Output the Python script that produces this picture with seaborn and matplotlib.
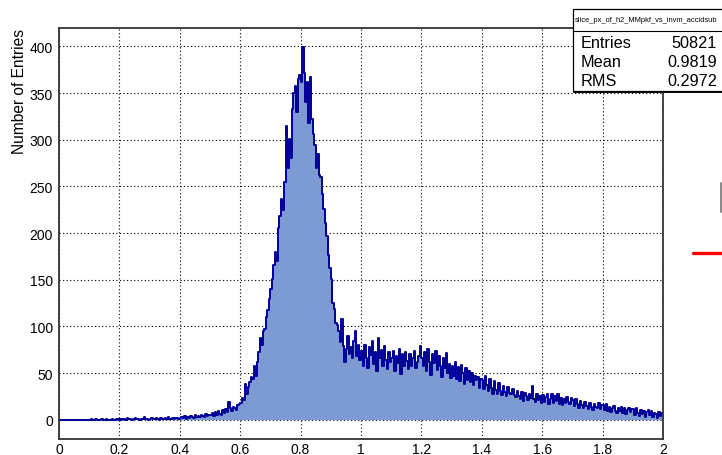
import numpy as np
import pandas as pd
import matplotlib
matplotlib.use("Agg")
import matplotlib.pyplot as plt
import seaborn as sns
from matplotlib.patches import Rectangle
from matplotlib.lines import Line2D
from matplotlib.ticker import MultipleLocator, FixedLocator, FixedFormatter

# ---------------- data (bin contents, 400 bins of width 0.005 over [0, 2]) ----------------
x_range = (0.0, 2.0)
n_bins = 400
counts_000_050 = [
    0, 0, 0, 0, 0, 0, 0, 0, 0, 0, 0, 0, 0, 0, 0, 0, 0, 0, 0, 0,
    0, 1, 0, 0, 1, 0, 0, 0, 1, 0, 0, 1, 0, 0, 0, 1, 0, 0, 1, 0,
    1, 0, 1, 1, 0, 2, 1, 1, 0, 1, 2, 1, 1, 0, 1, 1, 3, 1, 1, 0,
    1, 2, 1, 1, 2, 1, 0, 2, 1, 1, 2, 1, 3, 1, 1, 2, 1, 2, 2, 1,
    2, 3, 2, 4, 1, 3, 2, 4, 3, 2, 5, 3, 4, 3, 5, 4, 3, 6, 4, 5,
]
counts_050_100 = [
    5, 7, 4, 8, 5, 9, 6, 5, 10, 7, 11, 8, 19, 12, 9, 14, 12, 10, 16, 17,
    18, 23, 21, 38, 27, 35, 40, 46, 44, 58, 47, 62, 72, 88, 80, 95, 97, 110, 118, 129,
    140, 151, 166, 180, 170, 205, 218, 236, 225, 255, 315, 270, 301, 280, 333, 350, 358, 330, 365, 369,
    362, 399, 372, 340, 362, 318, 367, 322, 306, 294, 270, 285, 262, 260, 242, 226, 211, 197, 176, 162,
    151, 125, 119, 104, 101, 95, 83, 108, 79, 62, 76, 90, 70, 78, 66, 84, 95, 68, 80, 64,
]
counts_100_150 = [
    74, 58, 80, 66, 55, 78, 69, 84, 60, 72, 52, 88, 66, 75, 57, 79, 64, 54, 72, 62,
    66, 74, 52, 68, 61, 76, 49, 70, 58, 72, 63, 54, 70, 58, 66, 74, 55, 62, 68, 79,
    66, 58, 73, 52, 76, 62, 48, 70, 61, 74, 53, 68, 57, 46, 66, 55, 71, 50, 60, 45,
    58, 47, 62, 44, 56, 41, 59, 50, 38, 55, 43, 52, 40, 50, 37, 47, 42, 46, 34, 44,
    42, 33, 47, 37, 31, 44, 34, 28, 41, 32, 27, 39, 31, 26, 36, 30, 25, 35, 29, 28,
]
counts_150_200 = [
    33, 26, 24, 31, 25, 22, 30, 20, 29, 25, 21, 28, 23, 36, 22, 19, 27, 21, 25, 18,
    26, 19, 24, 27, 17, 22, 28, 18, 25, 20, 27, 17, 23, 16, 22, 18, 24, 19, 17, 23,
    21, 15, 22, 17, 13, 20, 16, 12, 19, 15, 11, 18, 14, 10, 17, 14, 12, 18, 11, 16,
    16, 10, 17, 9, 14, 8, 13, 15, 9, 7, 13, 9, 14, 7, 12, 6, 10, 13, 8, 11,
    11, 5, 12, 7, 4, 10, 6, 9, 3, 8, 10, 5, 9, 3, 7, 6, 2, 8, 4, 7,
]
x_ticks = [0, 0.2, 0.4, 0.6, 0.8, 1.0, 1.2, 1.4, 1.6, 1.8, 2.0]
x_tick_labels = ["0", "0.2", "0.4", "0.6", "0.8", "1", "1.2", "1.4", "1.6", "1.8", "2"]
y_ticks = [0, 50, 100, 150, 200, 250, 300, 350, 400]
y_label = "Number of Entries"
stats_title = "slice_px_of_h2_MMpkf_vs_invm_accidsub"
stats_names = ["Entries", "Mean", "RMS"]
stats_values = ["50821", "0.9819", "0.2972"]

counts = counts_000_050 + counts_050_100 + counts_100_150 + counts_150_200
edges = np.linspace(x_range[0], x_range[1], n_bins + 1)
centers = 0.5 * (edges[:-1] + edges[1:])
df = pd.DataFrame({"x": centers, "w": counts})
bin_list = [float(e) for e in edges]

# ---------------- styling ----------------
W, H = 722, 456
sns.set_style("white")
plt.rcParams["font.family"] = ["Liberation Sans", "DejaVu Sans"]

FILL = "#7d9bd2"
LINE = "#000099"
FRAME = "#333333"

fig = plt.figure(figsize=(W / 100, H / 100), dpi=100)
fig.patch.set_facecolor("white")

def fx(px):
    return px / W

def fy(py):
    return 1 - py / H

ax_l, ax_r, ax_t, ax_b = 59, 663, 29, 440
ax = fig.add_axes([fx(ax_l), fy(ax_b), (ax_r - ax_l) / W, (ax_b - ax_t) / H])
ax.set_facecolor("white")

sns.histplot(data=df, x="x", weights="w", bins=bin_list, element="step", fill=True,
             color=FILL, alpha=1.0, linewidth=0, ax=ax, zorder=2)
sns.histplot(data=df, x="x", weights="w", bins=bin_list, element="step", fill=False,
             color=LINE, linewidth=1.4, ax=ax, zorder=3)

ax.set_xlim(*x_range)
ax.set_ylim(-20.7, 419.7)
ax.set_xlabel("")
ax.set_ylabel(y_label, fontsize=11.2, color="black", loc="top", labelpad=2)

ax.xaxis.set_major_locator(FixedLocator(x_ticks))
ax.xaxis.set_major_formatter(FixedFormatter(x_tick_labels))
ax.xaxis.set_minor_locator(MultipleLocator(0.05))
ax.yaxis.set_major_locator(FixedLocator(y_ticks))
ax.yaxis.set_minor_locator(MultipleLocator(10))

ax.tick_params(axis="both", which="both", direction="in", colors="black",
               labelsize=10, width=1.0, top=False, right=False)
ax.tick_params(axis="y", which="major", length=13, pad=4.5)
ax.tick_params(axis="y", which="minor", length=6.5)
ax.tick_params(axis="x", which="major", length=8.6, pad=2.5)
ax.tick_params(axis="x", which="minor", length=4.3)
for t in ax.get_xticklines() + ax.get_yticklines():
    t.set_zorder(5)

ax.set_axisbelow(True)
ax.grid(True, which="major", color="black", linestyle=(0, (1, 2.2)), linewidth=0.8)

for s in ax.spines.values():
    s.set_visible(True)
    s.set_color(FRAME)
    s.set_linewidth(1.3)
    s.set_zorder(6)

# ---------------- stats box ----------------
bx0, bx1, by0, by1, bsep = 573, 724, 10, 92, 31.5
fig.patches.append(Rectangle((fx(bx0), fy(by1)), (bx1 - bx0) / W, (by1 - by0) / H,
                             transform=fig.transFigure, facecolor="white",
                             edgecolor="black", linewidth=0.9, zorder=10))
fig.lines.append(Line2D([fx(bx0), fx(bx1)], [fy(bsep), fy(bsep)], transform=fig.transFigure,
                        color="black", linewidth=0.8, zorder=11))
fig.lines.append(Line2D([fx(bx0 + 1), fx(bx1)], [fy(by1 + 1), fy(by1 + 1)], transform=fig.transFigure,
                        color="black", linewidth=1.4, zorder=11))
fig.text(fx((bx0 + 720) / 2), fy(20.5), stats_title, fontsize=5.4, ha="center", va="center",
         color="black", zorder=12)
row_y = [43, 62.5, 81.5]
for name, val, ry in zip(stats_names, stats_values, row_y):
    fig.text(fx(581), fy(ry), name, fontsize=11.7, ha="left", va="center", color="black", zorder=12)
    fig.text(fx(717), fy(ry), val, fontsize=11.7, ha="right", va="center", color="black", zorder=12)

# ---------------- stray marks at right edge (neighbouring pad) ----------------
fig.lines.append(Line2D([fx(693), fx(722)], [fy(253.5), fy(253.5)], transform=fig.transFigure,
                        color="#ff0000", linewidth=2.4, zorder=10))
fig.lines.append(Line2D([fx(720.5), fx(720.5)], [fy(184), fy(213)], transform=fig.transFigure,
                        color="#888888", linewidth=1.4, zorder=10))

fig.savefig("out.png", dpi=100, facecolor="white")
